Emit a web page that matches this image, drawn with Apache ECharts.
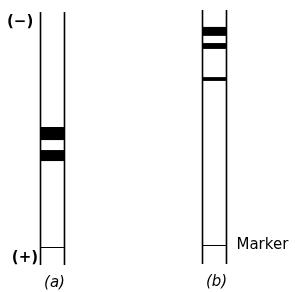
<!doctype html>
<html>
<head>
    <meta charset="utf-8">
    <title>gel tubes</title>
    <script src="https://cdn.jsdelivr.net/npm/echarts@6/dist/echarts.min.js"></script>
    <style>
        body{
            margin:0;
            padding:0;
            background:#fff;
        }
        #chart{
            width:295px;
            height:292px;
        }
    </style>
</head>
<body>
<div id="chart"></div>
<script>
    // tubes: x position, top / bottom of gel (distance from (-) end, 0..100)
    var tubeNames = ['(a)', '(b)'];
    var tubeX = [1, 3];
    var tubeTop = [1.2, 0.4];
    var tubeBottom = [100, 99.6];
    // bands [from, to] in migration distance
    var bandsA = [[46.1, 51.2], [55.1, 59.4]];
    var bandsB = [[7.0, 10.5], [13.3, 15.6], [26.6, 28.1]];
    var markerPos = [93.0, 92.2];
    var markerLabel = ['', 'Marker'];
    // polarity labels [x, y, text]
    var poles = [[0.6, 5.0, '(\u2212)'], [0.66, 97.3, '(+)']];

    var tubeBands = [bandsA, bandsB];
    var halfW = 0.148;

    var dom = document.getElementById('chart');
    var myChart = echarts.init(dom);

    function tubeItem(params, api) {
        var i = api.value(0);
        var x = tubeX[i];
        var lt = api.coord([x - halfW, tubeTop[i]]);
        var lb = api.coord([x - halfW, tubeBottom[i]]);
        var rt = api.coord([x + halfW, tubeTop[i]]);
        var rb = api.coord([x + halfW, tubeBottom[i]]);
        var children = [
            {type: 'line', shape: {x1: lt[0], y1: lt[1], x2: lb[0], y2: lb[1]}, style: {stroke: '#000', lineWidth: 1.6}},
            {type: 'line', shape: {x1: rt[0], y1: rt[1], x2: rb[0], y2: rb[1]}, style: {stroke: '#000', lineWidth: 1.6}}
        ];
        tubeBands[i].forEach(function (b) {
            var p1 = api.coord([x - halfW, b[0]]);
            var p2 = api.coord([x + halfW, b[1]]);
            children.push({
                type: 'rect',
                shape: {x: p1[0], y: p1[1], width: p2[0] - p1[0], height: p2[1] - p1[1]},
                style: {fill: '#000'}
            });
        });
        var m1 = api.coord([x - halfW, markerPos[i]]);
        var m2 = api.coord([x + halfW, markerPos[i]]);
        var my = Math.round(m1[1]) + 0.5;
        children.push({type: 'line', shape: {x1: m1[0], y1: my, x2: m2[0], y2: my}, style: {stroke: '#000', lineWidth: 1}});
        if (markerLabel[i]) {
            children.push({
                type: 'text',
                style: {x: m2[0] + 10, y: m2[1], text: markerLabel[i], fill: '#000',
                    font: '15px "DejaVu Sans"', verticalAlign: 'middle', align: 'left'}
            });
        }
        var lab = api.coord([x, tubeBottom[i]]);
        children.push({
            type: 'text',
            style: {x: lab[0] + 2, y: lab[1] + 18, text: tubeNames[i], fill: '#000',
                font: 'italic 15px "DejaVu Sans"', verticalAlign: 'middle', align: 'center'}
        });
        return {type: 'group', children: children};
    }

    function poleItem(params, api) {
        var p = api.coord([api.value(0), api.value(1)]);
        return {
            type: 'text',
            style: {x: p[0], y: p[1], text: poles[params.dataIndex][2], fill: '#000',
                font: 'bold 15px "DejaVu Sans"', verticalAlign: 'middle', align: 'center'}
        };
    }

    var option = {
        animation: false,
        grid: {left: 12, right: 40, top: 9, bottom: 27},
        xAxis: {type: 'value', min: 0.5, max: 3.5, show: false},
        yAxis: {type: 'value', min: 0, max: 100, inverse: true, show: false},
        series: [
            {
                type: 'custom',
                renderItem: tubeItem,
                clip: false,
                data: tubeNames.map(function (n, i) { return [i]; })
            },
            {
                type: 'custom',
                renderItem: poleItem,
                clip: false,
                data: poles.map(function (p) { return [p[0], p[1]]; })
            }
        ]
    };
    myChart.setOption(option, true);
</script>
</body>
</html>
